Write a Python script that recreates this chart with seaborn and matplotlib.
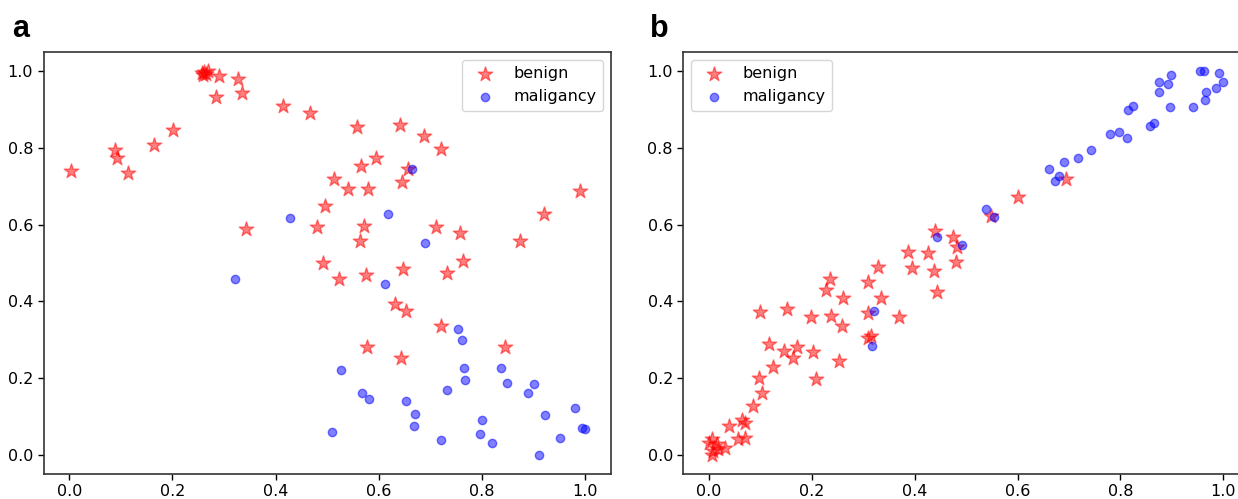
import matplotlib
matplotlib.use("Agg")
import matplotlib.pyplot as plt
import seaborn as sns
import numpy as np

# ---------------- data ----------------
a_benign_x = [0.262, 0.258, 0.266, 0.268, 0.260, 0.291, 0.327, 0.285, 0.335, 0.415,
              0.466, 0.201, 0.165, 0.089, 0.092, 0.004, 0.114, 0.513, 0.495, 0.481,
              0.342, 0.492, 0.523, 0.558, 0.641, 0.687, 0.720, 0.595, 0.566, 0.656,
              0.645, 0.540, 0.580, 0.991, 0.921, 0.572, 0.711, 0.758, 0.564, 0.874,
              0.763, 0.576, 0.648, 0.732, 0.632, 0.653, 0.721, 0.577, 0.845, 0.643]
a_benign_y = [0.998, 0.995, 0.993, 1.000, 0.990, 0.987, 0.979, 0.933, 0.944, 0.910,
              0.890, 0.846, 0.807, 0.794, 0.775, 0.740, 0.734, 0.719, 0.648, 0.593,
              0.588, 0.499, 0.457, 0.855, 0.861, 0.832, 0.796, 0.773, 0.753, 0.746,
              0.712, 0.694, 0.692, 0.688, 0.627, 0.597, 0.593, 0.579, 0.557, 0.558,
              0.505, 0.469, 0.484, 0.475, 0.393, 0.375, 0.337, 0.280, 0.280, 0.252]

a_malig_x = [0.428, 0.322, 0.665, 0.618, 0.690, 0.613, 0.753, 0.762, 0.526, 0.766,
             0.837, 0.768, 0.732, 0.848, 0.901, 0.889, 0.568, 0.582, 0.652, 0.671,
             0.668, 0.510, 0.721, 0.801, 0.797, 0.819, 0.923, 0.952, 0.911, 0.981,
             0.995, 1.000]
a_malig_y = [0.616, 0.458, 0.746, 0.629, 0.553, 0.444, 0.327, 0.298, 0.220, 0.226,
             0.226, 0.196, 0.169, 0.187, 0.184, 0.161, 0.161, 0.146, 0.140, 0.107,
             0.076, 0.059, 0.038, 0.092, 0.054, 0.032, 0.104, 0.044, 0.000, 0.122,
             0.071, 0.068]

b_benign_x = [0.005, 0.008, 0.018, 0.015, 0.000, 0.005, 0.031, 0.039, 0.057, 0.070,
              0.065, 0.070, 0.086, 0.104, 0.098, 0.124, 0.117, 0.145, 0.163, 0.171,
              0.203, 0.208, 0.252, 0.099, 0.151, 0.198, 0.237, 0.259, 0.310, 0.370,
              0.310, 0.315, 0.260, 0.227, 0.235, 0.335, 0.310, 0.328, 0.386, 0.425,
              0.394, 0.438, 0.444, 0.439, 0.475, 0.482, 0.480, 0.548, 0.600, 0.694]
b_benign_y = [0.000, 0.009, 0.014, 0.027, 0.031, 0.040, 0.018, 0.074, 0.040, 0.044,
              0.090, 0.083, 0.128, 0.161, 0.200, 0.228, 0.290, 0.271, 0.253, 0.282,
              0.269, 0.198, 0.245, 0.373, 0.379, 0.359, 0.362, 0.335, 0.369, 0.360,
              0.304, 0.310, 0.410, 0.430, 0.458, 0.408, 0.451, 0.490, 0.529, 0.527,
              0.486, 0.479, 0.425, 0.584, 0.567, 0.542, 0.502, 0.622, 0.673, 0.719]

b_malig_x = [0.954, 0.963, 0.992, 1.000, 0.985, 0.967, 0.965, 0.942, 0.898, 0.893,
             0.875, 0.875, 0.897, 0.825, 0.815, 0.865, 0.858, 0.779, 0.797, 0.813,
             0.742, 0.718, 0.690, 0.661, 0.681, 0.673, 0.539, 0.554, 0.492, 0.444,
             0.320, 0.316]
b_malig_y = [1.000, 1.000, 0.994, 0.972, 0.957, 0.946, 0.924, 0.907, 0.991, 0.966,
             0.972, 0.946, 0.907, 0.910, 0.900, 0.865, 0.858, 0.837, 0.842, 0.826,
             0.794, 0.773, 0.764, 0.746, 0.727, 0.714, 0.642, 0.621, 0.547, 0.567,
             0.375, 0.284]

labels = ["benign", "maligancy"]
panel_names = ["a", "b"]
ticks = [0.0, 0.2, 0.4, 0.6, 0.8, 1.0]

# ---------------- figure ----------------
W, H = 1238, 499
fig = plt.figure(figsize=(W / 100, H / 100), dpi=100)
ax_a = fig.add_axes([43.5 / W, (H - 474) / H, (610.8 - 43.5) / W, (474 - 52) / H])
ax_b = fig.add_axes([683.3 / W, (H - 474) / H, (1249 - 683.3) / W, (474 - 52) / H])

STAR_S = 120
DOT_S = 36
panels = [
    (ax_a, a_benign_x, a_benign_y, a_malig_x, a_malig_y, "upper right"),
    (ax_b, b_benign_x, b_benign_y, b_malig_x, b_malig_y, "upper left"),
]
for ax, bx, by, mx, my, loc in panels:
    sns.scatterplot(x=bx, y=by, ax=ax, marker="*", color="red", alpha=0.5,
                    s=STAR_S, edgecolor="red", linewidth=1.0, label=labels[0])
    sns.scatterplot(x=mx, y=my, ax=ax, marker="o", color="blue", alpha=0.5,
                    s=DOT_S, edgecolor="blue", linewidth=1.0, label=labels[1])
    ax.set_xlim(-0.05, 1.05)
    ax.set_ylim(-0.05, 1.05)
    ax.set_xticks(ticks)
    ax.set_yticks(ticks)
    ax.set_xticklabels([f"{t:.1f}" for t in ticks], fontsize=11.5)
    ax.set_yticklabels([f"{t:.1f}" for t in ticks], fontsize=11.5)
    ax.tick_params(length=4, width=1)
    for sp in ax.spines.values():
        sp.set_color("#333333")
        sp.set_linewidth(1.2)
    ax.legend(loc=loc, fontsize=11.5, markerscale=1.0, framealpha=0.8)

fig.text(12 / W, 1 - 37 / H, panel_names[0], fontsize=22, fontweight="bold",
         family="Liberation Sans", ha="left", va="baseline")
fig.text(650 / W, 1 - 37 / H, panel_names[1], fontsize=22, fontweight="bold",
         family="Liberation Sans", ha="left", va="baseline")

fig.savefig("out.png", dpi=100)
